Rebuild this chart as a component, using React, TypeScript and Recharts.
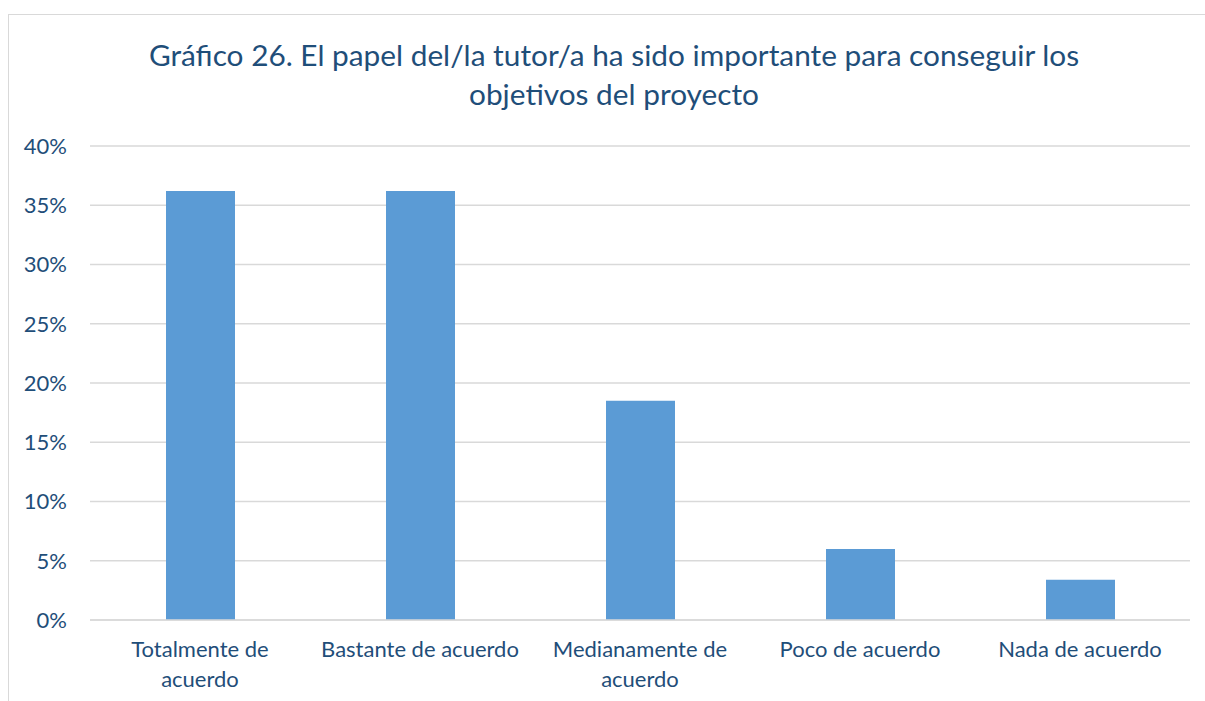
import { BarChart, Bar, XAxis, YAxis, CartesianGrid } from 'recharts';

const categories = [
  'Totalmente de acuerdo',
  'Bastante de acuerdo',
  'Medianamente de acuerdo',
  'Poco de acuerdo',
  'Nada de acuerdo',
];
const values = [36.2, 36.2, 18.5, 6.0, 3.4];
const yTicks = [0, 5, 10, 15, 20, 25, 30, 35, 40];

const titleLines = [
  'Gráfico 26. El papel del/la tutor/a ha sido importante para conseguir los',
  'objetivos del proyecto',
];

const data = categories.map((name, i) => ({ name, value: values[i] }));

const TEXT = '#1F4E79';
const FONT = 'Lato, "Open Sans", sans-serif';

// labels longer than the category slot get their last word moved to a second line
function wrapLabel(label: string): string[] {
  if (label.length <= 20) return [label];
  const i = label.lastIndexOf(' ');
  return [label.slice(0, i), label.slice(i + 1)];
}

function CategoryTick(props: any) {
  const { x, y, payload } = props;
  const lines = wrapLabel(String(payload.value));
  return (
    <text x={x} y={y} textAnchor="middle" fill={TEXT} fontSize={22} fontFamily={FONT}>
      {lines.map((l, i) => (
        <tspan key={i} x={x} y={y + 37 + i * 30}>
          {l}
        </tspan>
      ))}
    </text>
  );
}

export default function App() {
  return (
    <div style={{ position: 'absolute', left: 0, top: 0, width: 1205, height: 701, overflow: 'hidden', background: '#fff' }}>
      <div
        style={{
          position: 'absolute',
          left: 8,
          top: 14,
          width: 1300,
          height: 800,
          borderTop: '1px solid #D9D9D9',
          borderLeft: '1px solid #D9D9D9',
        }}
      />
      <div
        style={{
          position: 'absolute',
          left: 64,
          top: 35,
          width: 1100,
          textAlign: 'center',
          color: TEXT,
          fontFamily: FONT,
          fontSize: 29.8,
          lineHeight: '39px',
        }}
      >
        {titleLines.map((l) => (
          <div key={l}>{l}</div>
        ))}
      </div>
      <div style={{ position: 'absolute', left: 0, top: 0 }}>
        <BarChart width={1205} height={701} data={data} margin={{ top: 146, right: 15, bottom: 21, left: 10 }}>
          <CartesianGrid vertical={false} stroke="#D9D9D9" strokeWidth={1.3} />
          <XAxis
            dataKey="name"
            axisLine={{ stroke: '#D9D9D9', strokeWidth: 1.3 }}
            tickLine={false}
            tickSize={0}
            tickMargin={0}
            height={60}
            interval={0}
            tick={<CategoryTick />}
          />
          <YAxis
            width={80}
            domain={[0, 40]}
            ticks={yTicks}
            axisLine={false}
            tickLine={false}
            tickSize={0}
            tickMargin={23}
            tickFormatter={(v) => `${v}%`}
            tick={{ fill: TEXT, fontSize: 22, fontFamily: FONT }}
          />
          <Bar dataKey="value" fill="#5B9BD5" barSize={69} isAnimationActive={false} />
        </BarChart>
      </div>
    </div>
  );
}
